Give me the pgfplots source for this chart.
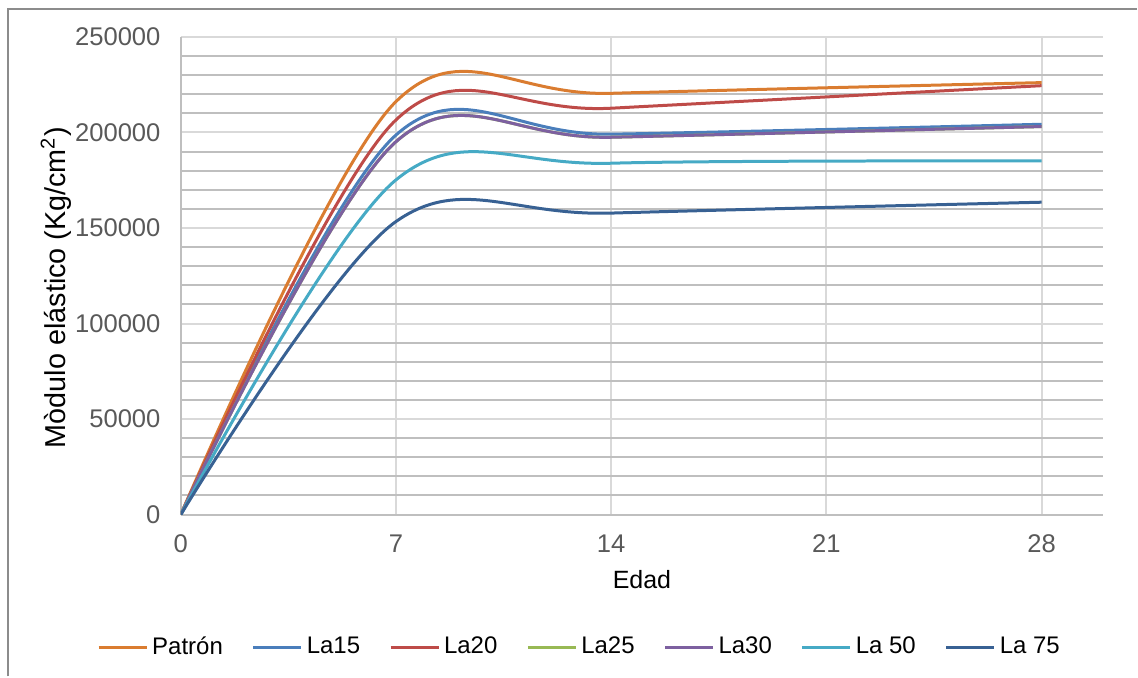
\documentclass[border=0pt]{standalone}
\usepackage{fontspec}
\setmainfont{Liberation Sans}
\usepackage{pgfplots}
\pgfplotsset{compat=1.18}

\definecolor{cPatron}{RGB}{218,124,48}
\definecolor{cLaQuince}{RGB}{74,126,187}
\definecolor{cLaVeinte}{RGB}{190,75,72}
\definecolor{cLaVeinticinco}{RGB}{152,185,84}
\definecolor{cLaTreinta}{RGB}{125,96,160}
\definecolor{cLaCincuenta}{RGB}{70,170,197}
\definecolor{cLaSetenta}{RGB}{56,97,147}
\definecolor{gridmajor}{RGB}{217,217,217}
\definecolor{gridminor}{RGB}{191,191,191}
\definecolor{ticktext}{RGB}{89,89,89}
\definecolor{frame}{RGB}{140,140,140}

% tick label text in the body font
\newcommand{\tl}[1]{\hbox{\fontsize{12.8}{15}\selectfont\color{ticktext}#1}}

\begin{document}
\fontsize{12}{14.4}\selectfont
\begin{tikzpicture}
\begin{axis}[
  scale only axis,
  width=461.5pt, height=239pt,
  xmin=0, xmax=30, ymin=0, ymax=250000,
  xtick={0,7,14,21,28},
  xticklabels={\tl{0},\tl{7},\tl{14},\tl{21},\tl{28}},
  ytick={0,50000,100000,150000,200000,250000},
  yticklabels={\tl{0},\tl{50000},\tl{100000},\tl{150000},\tl{200000},\tl{250000}},
  minor y tick num=4,
  grid=both,
  major grid style={draw=gridmajor, line width=1pt},
  minor grid style={draw=gridminor, line width=1pt},
  axis lines=left,
  axis line style={-, draw=gridminor, line width=1pt},
  major tick length=0pt, minor tick length=0pt,
  scaled y ticks=false,
  xticklabel style={yshift=-6pt},
  yticklabel style={xshift=-6pt},
  every axis y label/.style={at={(axis description cs:-0.1354,0.475)}, anchor=center, rotate=90,
    font=\fontsize{14.4}{17}\selectfont},
  every axis x label/.style={at={(axis description cs:0.5,-0.136)}, anchor=center,
    font=\fontsize{12.5}{15}\selectfont},
  xlabel={Edad},
  ylabel={Mòdulo elástico (Kg/cm\textsuperscript{2})},
  legend columns=7,
  legend style={at={(axis description cs:0.4334,-0.2782)}, anchor=center,
    draw=none, fill=none, inner sep=0pt,
    font=\fontsize{12}{14}\selectfont,
    /tikz/every even column/.append style={column sep=12.5pt}},
  legend image code/.code={\draw[#1] (0pt,0pt) -- (24pt,0pt);},
  every axis plot/.append style={line width=1.5pt, smooth, tension=0.55},
]
\addplot[cPatron] coordinates {(0,0) (7,216200) (14,220500) (28,226100)};
\addlegendentry{Patrón}
\addplot[cLaQuince] coordinates {(0,0) (7,198700) (14,199100) (28,204300)};
\addlegendentry{La15}
\addplot[cLaVeinte] coordinates {(0,0) (7,206600) (14,212700) (28,224500)};
\addlegendentry{La20}
\addplot[cLaVeinticinco] coordinates {(0,0) (7,195200) (14,197500) (28,203100)};
\addlegendentry{La25}
\addplot[cLaTreinta] coordinates {(0,0) (7,195200) (14,197500) (28,203100)};
\addlegendentry{La30}
\addplot[cLaCincuenta] coordinates {(0,0) (7,175200) (14,183900) (28,185100)};
\addlegendentry{La 50}
\addplot[cLaSetenta] coordinates {(0,0) (7,153400) (14,157800) (28,163500)};
\addlegendentry{La 75}
\end{axis}
% chart frame (top and left edges) and page extent
\draw[frame, line width=1pt] (-86.5pt,-81pt) -- (-86.5pt,253pt) -- (478.5pt,253pt);
\useasboundingbox (-90.5pt,-81pt) rectangle (478.5pt,257.5pt);
\end{tikzpicture}
\end{document}
